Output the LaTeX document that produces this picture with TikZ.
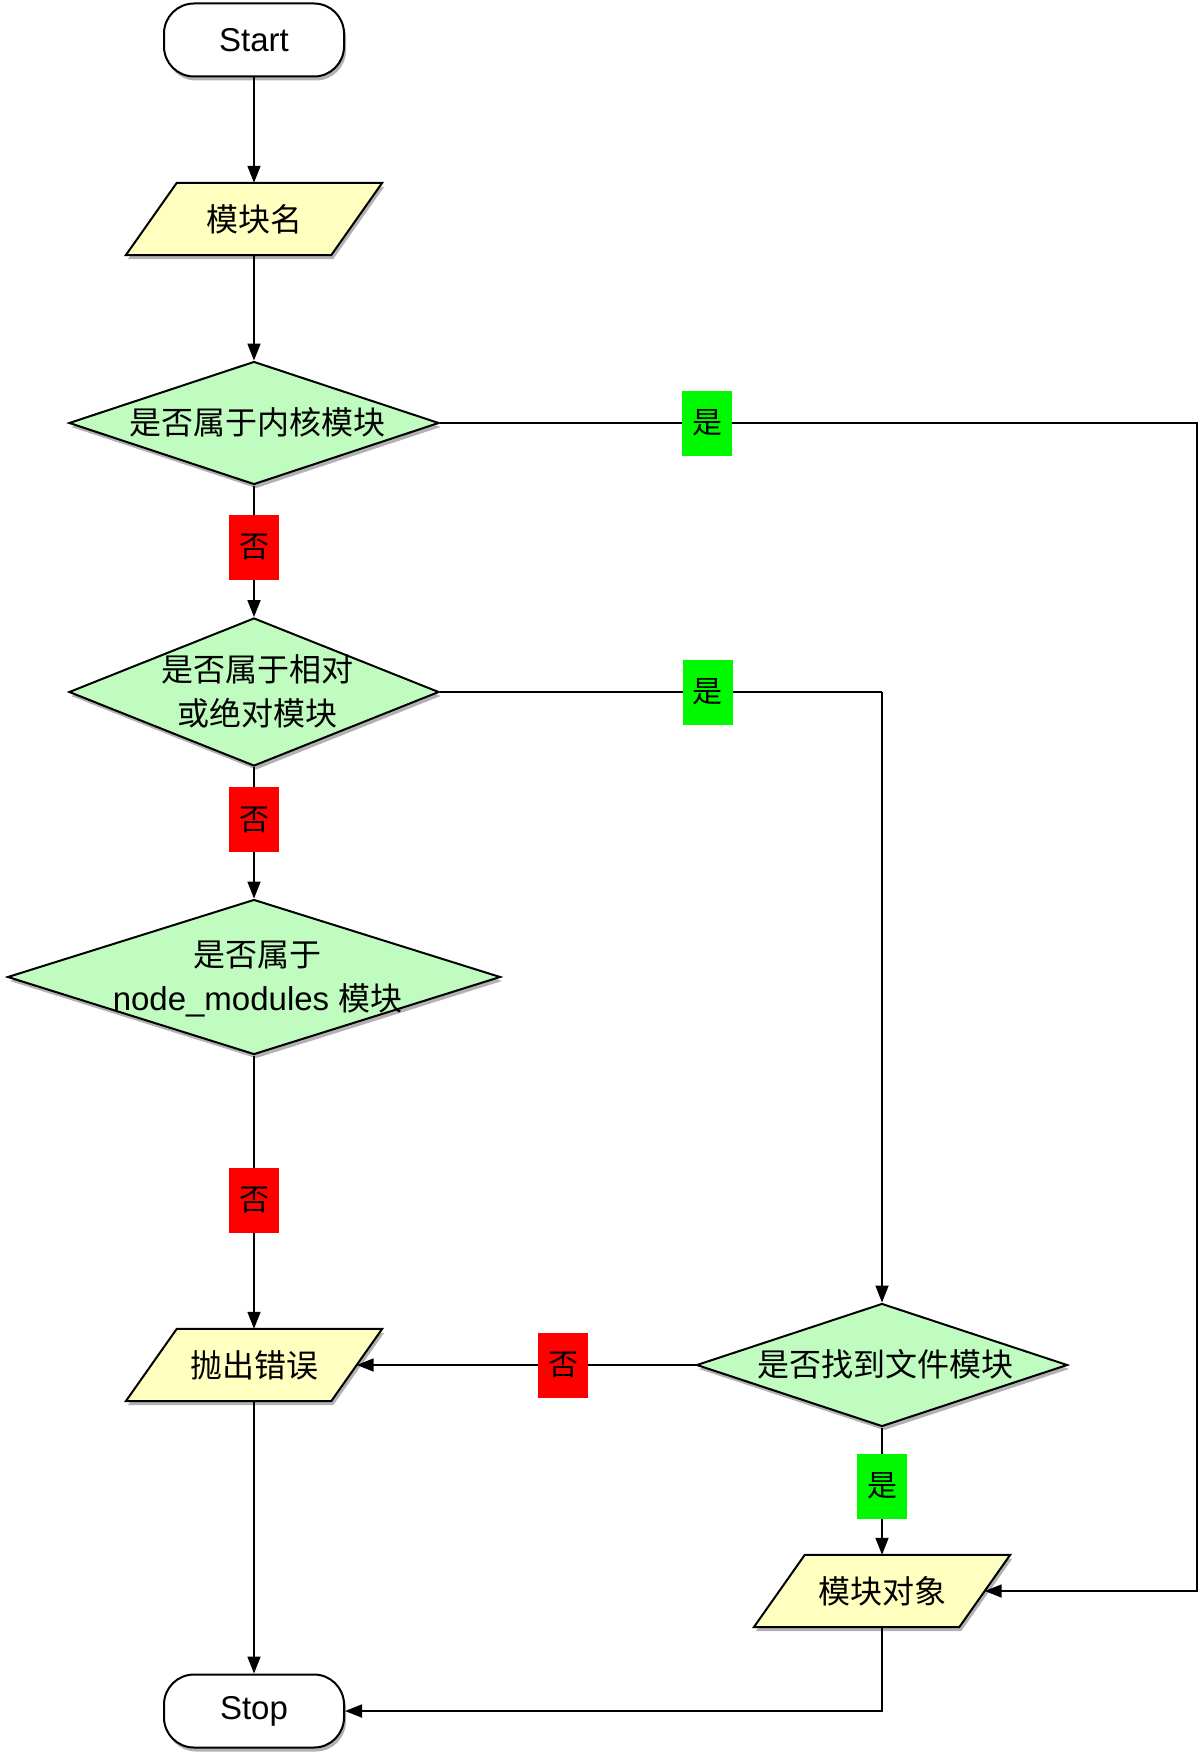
\documentclass[tikz,border=0pt]{standalone}
\usepackage{fontspec}
\setmainfont{Liberation Sans}
\newfontfamily\cjk{Noto Sans CJK SC}
\usetikzlibrary{shapes.geometric,shadows,arrows.meta,calc}
\definecolor{dgreen}{HTML}{C0FCC0}
\definecolor{pyellow}{HTML}{FFFFC0}
\definecolor{lred}{HTML}{FF0000}
\definecolor{lgreen}{HTML}{00F900}
\pgfdeclarelayer{bg}\pgfsetlayers{bg,main}
\newcommand\dline[1]{\smash{\makebox[0pt]{\hspace{7pt}\raisebox{-11pt}{#1}}}}
\newcommand\dtwo[2]{\smash{\makebox[0pt]{\hspace{7pt}\raisebox{11pt}{#1}}\makebox[0pt]{\hspace{7pt}\raisebox{-33pt}{#2}}}}
\tikzset{
  x=1pt, y=-1pt,
  shadowed/.style={drop shadow={shadow xshift=2pt, shadow yshift=-4pt, opacity=0.3, fill=black}},
  term/.style={draw, line width=2pt, rounded corners=30pt, minimum width=180, minimum height=73, fill=white, inner sep=0, shadowed, font=\fontsize{33}{44}\selectfont},
  dia/.style={diamond, draw, line width=2pt, fill=dgreen, inner sep=0, shadowed, font=\cjk\fontsize{32}{44}\selectfont},
  ptext/.style={minimum width=205, minimum height=72, inner sep=0, font=\cjk\fontsize{32}{44}\selectfont},
  pshape/.style={draw, line width=2pt, fill=pyellow, line join=miter, shadowed},
  conn/.style={line width=1.8pt, -{Triangle[length=17pt,width=13pt]}},
  plain/.style={line width=1.8pt},
  nolab/.style={fill=lred, minimum width=50, minimum height=65, inner sep=0, font=\cjk\fontsize{30}{30}\selectfont},
  yeslab/.style={fill=lgreen, minimum width=50, minimum height=65, inner sep=0, font=\cjk\fontsize{30}{30}\selectfont},
}
\begin{document}
\begin{tikzpicture}
\useasboundingbox (0,0) rectangle (1204,1758);

\node[term] (start) at (254,40) {Start};
\node[ptext] (name) at (254,219) {模块名};
\node[dia, minimum width=370, minimum height=123] (d1) at (254,423) {\dline{是否属于内核模块}};
\node[dia, minimum width=370, minimum height=148] (d2) at (254,692) {\dtwo{是否属于相对}{或绝对模块}};
\node[dia, minimum width=493, minimum height=155] (d3) at (254,977) {\dtwo{是否属于}{{\rmfamily\fontsize{33}{44}\selectfont node\_modules\hspace{9pt}}模块}};
\node[ptext] (err) at (254,1365) {抛出错误};
\node[dia, minimum width=371, minimum height=123] (d4) at (882,1365) {\dline{是否找到文件模块}};
\node[ptext] (obj) at (882,1591) {模块对象};
\node[term] (stop) at (254,1711) {Stop};
\coordinate (rail) at (1197,0);

\begin{pgfonlayer}{bg}
\foreach \p in {name,err,obj}{
  \draw[pshape] ($(\p.south west)+(-25.5,0)$) -- ($(\p.north west)+(25.5,0)$) -- ($(\p.north east)+(25.5,0)$) -- ($(\p.south east)+(-25.5,0)$) -- cycle;
}
\end{pgfonlayer}

\draw[conn] (start.south) -- (name.north);
\draw[conn] (name.south) -- (d1.north);
\draw[conn] (d1.south) -- node[nolab, pos=0.47] (n1) {否} (d2.north);
\draw[conn] (d1.east) -- node[yeslab, pos=0.353] (y1) {是} (d1.east -| rail) |- (obj.east);
\draw[plain] (d2.east) -- node[yeslab, pos=0.606] (y2) {是} (d2.east -| d4.north);
\draw[conn] (d2.east -| d4.north) -- (d4.north);
\draw[conn] (d2.south) -- node[nolab, pos=0.40] (n2) {否} (d3.north);
\draw[conn] (d3.south) -- node[nolab, pos=0.53] (n3) {否} (err.north);
\draw[conn] (d4.west) -- node[nolab, pos=0.39] (n4) {否} (err.east);
\draw[conn] (d4.south) -- node[yeslab, pos=0.46] (y3) {是} (obj.north);
\draw[conn] (err.south) -- (stop.north);
\draw[conn] (obj.south) |- (stop.east);
\end{tikzpicture}
\end{document}
